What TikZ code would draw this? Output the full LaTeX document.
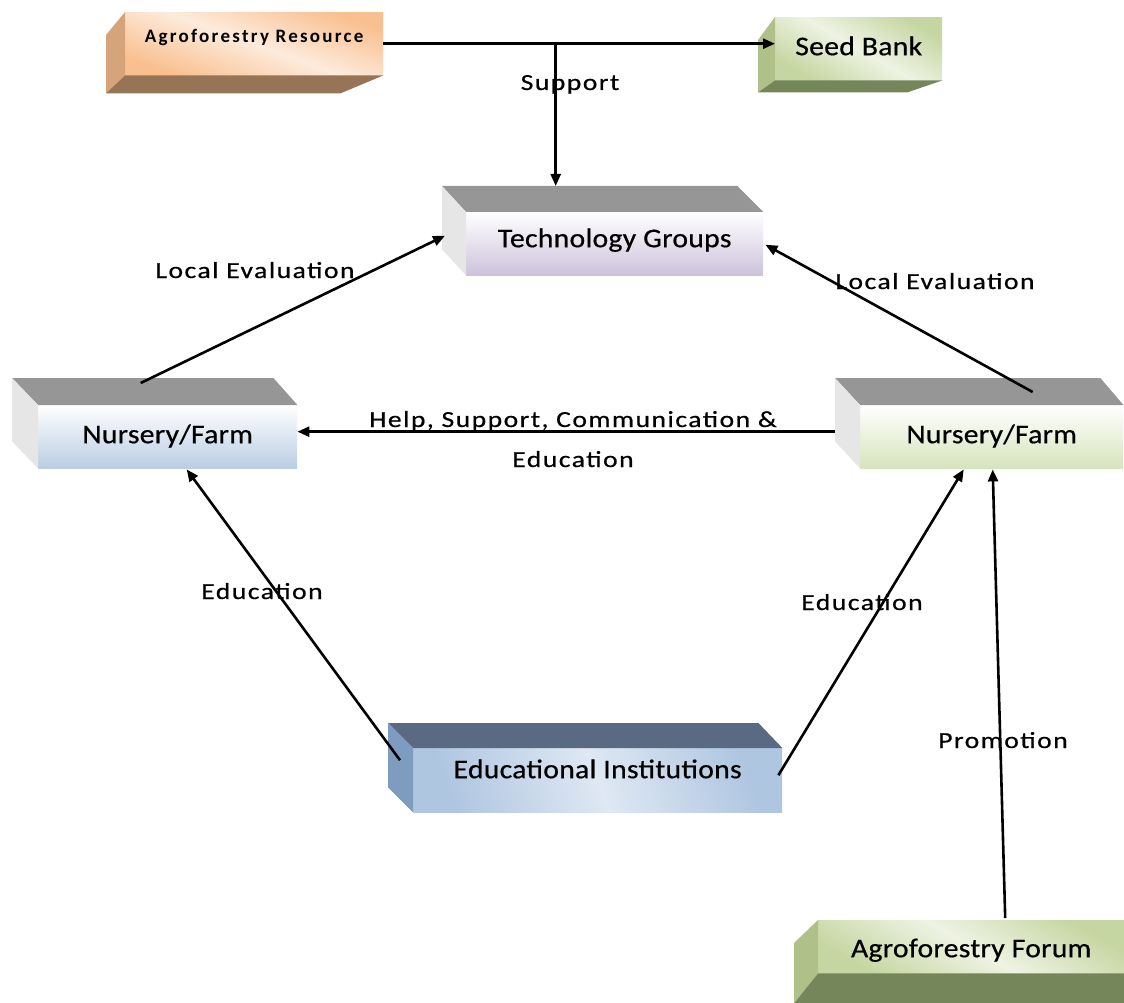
\documentclass[tikz,border=0pt]{standalone}
\usepackage{fontspec}
\setmainfont{Carlito}
\newfontfamily\boxfont{Carlito}[FakeStretch=1.1, LetterSpace=1, FakeBold=0.6]
\newfontfamily\lblfont{Carlito}[FakeStretch=1.2, LetterSpace=6.5, FakeBold=0.6]
\newfontfamily\resfont{Carlito}[LetterSpace=12]
\usetikzlibrary{calc,arrows.meta}

\definecolor{resO}{HTML}{F9BF8F}
\definecolor{resL}{HTML}{FDEBDC}
\definecolor{resSide}{HTML}{D6A47A}
\definecolor{resBot}{HTML}{987456}
\definecolor{grnD}{HTML}{C6D6A2}
\definecolor{grnL}{HTML}{EEF3E3}
\definecolor{grnSide}{HTML}{AFC188}
\definecolor{grnBot}{HTML}{75875A}
\definecolor{greyTop}{HTML}{969696}
\definecolor{greySide}{HTML}{E6E6E6}
\definecolor{lilac}{HTML}{CDC2DB}
\definecolor{paleBlue}{HTML}{BACDE4}
\definecolor{paleGreen}{HTML}{D6E4BC}
\definecolor{slateTop}{HTML}{5A6A83}
\definecolor{slateSide}{HTML}{7E9BC0}
\definecolor{eduL}{HTML}{DFE8F3}
\definecolor{eduD}{HTML}{AFC6E1}

% 3D block with a top face and a left face behind the front face
\newcommand\cubeTL[6]{%
  \fill[#5] (#1.north west) -- ++(-#2,-#3) -- ($(#1.north east)+(-#4,-#3)$) -- (#1.north east) -- cycle;
  \fill[#6] (#1.north west) -- ++(-#2,-#3) -- ($(#1.south west)+(-#2,-#3)$) -- (#1.south west) -- cycle;}
% 3D block with a left face and a bottom face
\newcommand\cubeLB[7]{%
  \fill[#6] (#1.north west) -- ++(-#2,#3) -- ($(#1.south west)+(-#2,#4)$) -- (#1.south west) -- cycle;
  \fill[#7] (#1.south west) -- ($(#1.south west)+(-#2,#4)$) -- ($(#1.south east)+(-#5,#4)$) -- (#1.south east) -- cycle;}

\begin{document}
\begin{tikzpicture}[x=1pt,y=-1pt,
  front/.style={inner sep=0pt, minimum height=0pt, anchor=north west, text=black,
    font=\boxfont\fontsize{27}{30}\selectfont},
  lbl/.style={inner sep=0pt, anchor=base, text=black, font=\lblfont\fontsize{23}{27}\selectfont},
  arr/.style={line width=2.6pt, -{Triangle[length=12pt,width=10pt]}}]
\useasboundingbox (0,0) rectangle (1124,1003);

% front faces
\node[front, minimum width=258pt, text height=30pt, text depth=33pt,
  top color=resO, bottom color=resO, middle color=resL, shading angle=-20,
  font=\resfont\bfseries\fontsize{19}{22}\selectfont] (res) at (125,12) {Agroforestry Resource};
\node[front, minimum width=167pt, text height=38pt, text depth=25pt,
  top color=grnD, bottom color=grnD, middle color=grnL, shading angle=-30] (seed) at (775,17) {Seed Bank};
\node[front, minimum width=297pt, text height=35pt, text depth=28pt,
  top color=white, bottom color=lilac] (tech) at (466,212) {Technology Groups};
\node[front, minimum width=259pt, text height=38pt, text depth=25pt,
  top color=white, bottom color=paleBlue] (nfl) at (38,405) {Nursery/Farm};
\node[front, minimum width=263pt, text height=38pt, text depth=25pt,
  top color=white, bottom color=paleGreen] (nfr) at (860,405) {Nursery/Farm};
\node[front, minimum width=369pt, text height=30pt, text depth=34pt,
  top color=eduD, bottom color=eduD, middle color=eduL, shading angle=-70] (edu) at (413,748) {Educational Institutions};
\node[front, minimum width=306pt, text height=37pt, text depth=16pt,
  top color=grnD, bottom color=grnD, middle color=grnL, shading angle=-30] (forum) at (818,920) {Agroforestry Forum};

% side faces
\cubeLB{res}{19}{23}{18}{43}{resSide}{resBot}
\cubeLB{seed}{17}{23}{12}{35}{grnSide}{grnBot}
\cubeLB{forum}{24}{23}{30}{0}{grnSide}{grnBot}
\cubeTL{tech}{24}{26}{26}{greyTop}{greySide}
\cubeTL{nfl}{26}{27}{24}{greyTop}{greySide}
\cubeTL{nfr}{25}{27}{23}{greyTop}{greySide}
\cubeTL{edu}{25}{25}{24}{slateTop}{slateSide}

% connectors
\draw[arr] (res.east) -- (res.east -| seed.west);
\coordinate (split) at ($(res.east)!0.44!(res.east -| seed.west)$);
\draw[arr] (split) -- ($(split |- tech.north)+(0,-26)$);
\draw[arr] ($(nfl.north)+(-27,-22)$) -- ($(tech.west)+(-21,-8)$);
\draw[arr] ($(nfr.north)+(41,-13)$) -- ($(tech.east)+(2,1)$);
\draw[arr] ($(nfr.west)+(-25,-5)$) coordinate (help) -- (help -| nfl.east);
\draw[arr] ($(edu.west)+(-13,-20)$) -- ($(nfl.south)+(19,1)$);
\draw[arr] ($(edu.east)+(-4,-5)$) -- ($(nfr.south)+(-28,1)$);
\draw[arr] ($(forum.north)+(34,-2)$) -- ($(nfr.south)+(1,1)$);

% connector labels
\node[lbl] (lsup) at (570,90) {Support};
\node[lbl] (lle1) at (255,278) {Local Evaluation};
\node[lbl] (lle2) at (935,289) {Local Evaluation};
\node[lbl] (lhelp1) at (573,427) {Help, Support, Communication \&};
\node[lbl] (lhelp2) at (573,467) {Education};
\node[lbl] (led1) at (262,599) {Education};
\node[lbl] (led2) at (862,610) {Education};
\node[lbl] (lpro) at (1003,748) {Promotion};
\end{tikzpicture}
\end{document}
